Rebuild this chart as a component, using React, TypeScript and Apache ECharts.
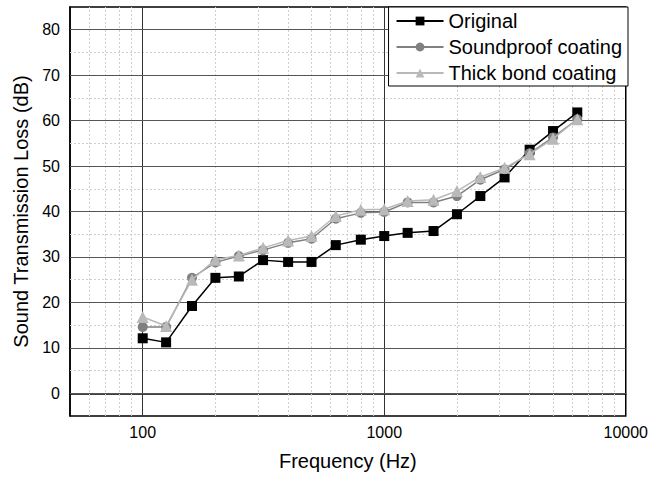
import React, { useEffect, useRef } from "react";
import * as echarts from "echarts";

const frequencies = [100, 125, 160, 200, 250, 315, 400, 500, 630, 800, 1000, 1250, 1600, 2000, 2500, 3150, 4000, 5000, 6300];
const original = [12.1, 11.2, 19.2, 25.4, 25.7, 29.3, 28.9, 28.9, 32.6, 33.8, 34.6, 35.3, 35.7, 39.4, 43.4, 47.5, 53.6, 57.7, 61.8];
const soundproof = [14.6, 14.6, 25.4, 28.8, 30.2, 31.5, 33.1, 34.0, 38.4, 39.7, 39.9, 42.0, 42.0, 43.4, 47.0, 49.3, 52.8, 56.3, 60.3];
const thickBond = [16.8, 14.8, 25.0, 29.4, 30.3, 32.0, 33.6, 34.6, 39.0, 40.4, 40.5, 42.3, 42.6, 44.5, 47.6, 49.6, 52.6, 56.0, 60.3];
const seriesNames = ["Original", "Soundproof coating", "Thick bond coating"];
const xLabelValues = [100, 1000, 10000];
const yLabelValues = [0, 10, 20, 30, 40, 50, 60, 70, 80];
const xMajorLines = [100, 1000];
const xMinorLines = [60, 70, 80, 90, 200, 300, 400, 500, 600, 700, 800, 900, 2000, 3000, 4000, 5000, 6000, 7000, 8000, 9000];
const yMajorLines = [0, 10, 20, 30, 40, 50, 60, 70, 80];
const yMinorLines = [5, 15, 25, 35, 45, 55, 65, 75];

const FONT = "'Liberation Sans', Arial, sans-serif";

export default function App() {
  const ref = useRef<HTMLDivElement>(null);
  useEffect(() => {
    if (!ref.current) return;
    const chart = echarts.init(ref.current, null, { renderer: "svg" });
    const pairs = (vals: number[]) => frequencies.map((f, i) => [f, vals[i]]);
    const gridLineSeries = {
      type: "line",
      name: "grid",
      data: [],
      z: 1,
      silent: true,
      markLine: {
        silent: true,
        z: 1,
        symbol: ["none", "none"],
        label: { show: false },
        animation: false,
        data: [
          ...xMinorLines.map((v) => ({ xAxis: v, lineStyle: { color: "#cfcfcf", type: [2, 2], width: 1 } })),
          ...yMinorLines.map((v) => ({ yAxis: v, lineStyle: { color: "#cfcfcf", type: [2, 2], width: 1 } })),
          ...xMajorLines.map((v) => ({ xAxis: v, lineStyle: { color: "#333", type: "solid", width: 1 } })),
          ...yMajorLines.map((v) => ({ yAxis: v, lineStyle: { color: "#555", type: "solid", width: 1 } })),
        ],
      },
    };
    chart.setOption({
      animation: false,
      backgroundColor: "#fff",
      textStyle: { fontFamily: FONT },
      grid: {
        left: 70,
        right: 23,
        top: 7,
        bottom: 63,
        show: true,
        borderColor: "#000",
        borderWidth: 1.5,
        backgroundColor: "transparent",
      },
      legend: {
        data: seriesNames,
        orient: "vertical",
        right: 23,
        top: 7,
        backgroundColor: "#fff",
        borderColor: "#000",
        borderWidth: 1,
        borderRadius: 0,
        padding: [4, 6, 3, 7],
        itemGap: 6,
        itemWidth: 47,
        itemHeight: 11,
        textStyle: { fontFamily: FONT, fontSize: 20, color: "#000" },
        z: 10,
      },
      xAxis: {
        type: "log",
        logBase: 10,
        min: 50,
        max: 10000,
        name: "Frequency (Hz)",
        nameLocation: "middle",
        nameGap: 35,
        nameTextStyle: { fontFamily: FONT, fontSize: 20, color: "#000" },
        axisLine: { show: true, lineStyle: { color: "#000", width: 1.5 } },
        axisTick: { show: false },
        splitLine: { show: false },
        axisLabel: {
          fontFamily: FONT,
          fontSize: 16,
          color: "#000",
          margin: 8,
          showMinLabel: false,
          formatter: (v: number) => (xLabelValues.some((t) => Math.abs(t - v) < 1e-6 * t) ? String(Math.round(v)) : ""),
        },
      },
      yAxis: {
        type: "value",
        min: -5,
        max: 85,
        name: "Sound Transmission Loss (dB)",
        nameLocation: "middle",
        nameGap: 38,
        nameTextStyle: { fontFamily: FONT, fontSize: 20, color: "#000" },
        axisLine: { show: true, lineStyle: { color: "#000", width: 1.5 } },
        axisTick: { show: false },
        splitLine: { show: false },
        axisLabel: {
          fontFamily: FONT,
          fontSize: 16,
          color: "#000",
          margin: 10,
          customValues: yLabelValues,
        },
      },
      series: [
        gridLineSeries,
        {
          type: "line",
          name: seriesNames[0],
          data: pairs(original),
          symbol: "rect",
          symbolSize: 10,
          color: "#000",
          lineStyle: { color: "#000", width: 1.5 },
          itemStyle: { color: "#000" },
          z: 3,
        },
        {
          type: "line",
          name: seriesNames[1],
          data: pairs(soundproof),
          symbol: "circle",
          symbolSize: 10,
          color: "#808080",
          lineStyle: { color: "#808080", width: 1.5 },
          itemStyle: { color: "#808080" },
          z: 4,
        },
        {
          type: "line",
          name: seriesNames[2],
          data: pairs(thickBond),
          symbol: "triangle",
          symbolSize: 12,
          color: "#b9b9b9",
          lineStyle: { color: "#b9b9b9", width: 1.5 },
          itemStyle: { color: "#b9b9b9" },
          z: 5,
        },
      ],
    });
    return () => chart.dispose();
  }, []);
  return <div ref={ref} style={{ width: 651, height: 479, position: "absolute", left: 0, top: 0 }} />;
}
